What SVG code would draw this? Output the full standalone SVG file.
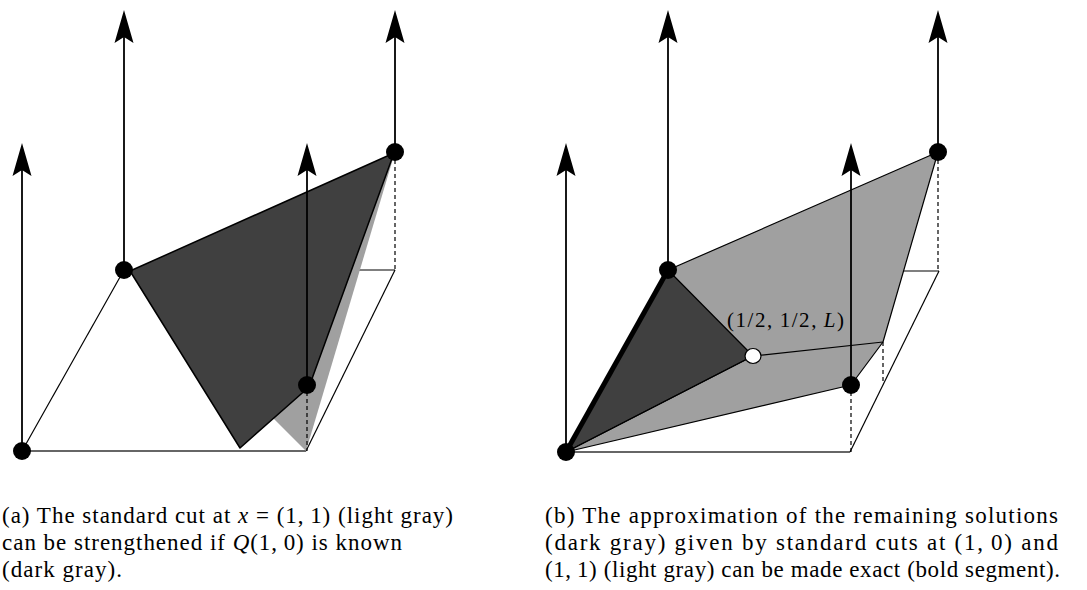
<svg xmlns="http://www.w3.org/2000/svg" width="1087" height="590" viewBox="0 0 1087 590">
<style>
.base{fill:none;stroke:#000;stroke-width:1.2}
.bot{fill:none;stroke:#333;stroke-width:1.6}
.dash{fill:none;stroke:#000;stroke-width:1.2;stroke-dasharray:4 3}
.shaft{fill:none;stroke:#000;stroke-width:1.8}
.dark{fill:#404040;stroke:#000;stroke-width:1.5;stroke-linejoin:round}
.light{fill:#a0a0a0;stroke:none}
.lightb{fill:#a0a0a0;stroke:#000;stroke-width:1.2;stroke-linejoin:round}
.edge{fill:none;stroke:#000;stroke-width:1.2}
.dot{fill:#000}
.wdot{fill:#fff;stroke:#000;stroke-width:1.2}
.cap{font-family:"Liberation Serif",serif;font-size:23px;fill:#000}
.lbl{font-family:"Liberation Serif",serif;font-size:21px;fill:#000}
</style>
<defs>
<path id="ah" d="M0,0 L9.5,33 L0,27 L-9.5,33 Z" fill="#000"/>
</defs>

<g id="panel-a">
  <g id="a-base">
    <line class="base" x1="22" y1="451" x2="124" y2="270"/>
    <line class="base" x1="124" y1="270" x2="395" y2="270"/>
    <line class="base" x1="306" y1="451" x2="395" y2="270"/>
    <line class="bot" x1="22" y1="451" x2="306" y2="451"/>
  </g>
  <g id="a-light-cut">
    <polygon class="light" points="395,152 306,451 260,405"/>
  </g>
  <g id="a-dark-cut">
    <polygon class="dark" points="130,271 394,153 309,387 240,448"/>
  </g>
  <g id="a-connectors">
    <line class="dash" x1="395" y1="160" x2="395" y2="270"/>
    <line class="dash" x1="307" y1="392" x2="307" y2="451"/>
    <line class="shaft" x1="22" y1="451" x2="22" y2="168"/>
    <use href="#ah" x="22" y="143"/>
    <line class="shaft" x1="124" y1="270" x2="124" y2="35"/>
    <use href="#ah" x="124" y="10"/>
    <line class="shaft" x1="307" y1="385" x2="307" y2="168"/>
    <use href="#ah" x="307" y="143"/>
    <line class="shaft" x1="395" y1="152" x2="395" y2="35"/>
    <use href="#ah" x="395" y="10"/>
  </g>
  <g id="a-points">
    <circle class="dot" cx="22" cy="451" r="9"/>
    <circle class="dot" cx="124" cy="270" r="9"/>
    <circle class="dot" cx="307" cy="385" r="9"/>
    <circle class="dot" cx="395" cy="152" r="9"/>
  </g>
  <g id="a-caption">
    <text class="cap" x="2" y="523" textLength="451" lengthAdjust="spacing">(a) The standard cut at <tspan font-style="italic">x</tspan> = (1,&#8201;1) (light gray)</text>
    <text class="cap" x="2" y="550" textLength="400" lengthAdjust="spacing">can be strengthened if <tspan font-style="italic">Q</tspan>(1,&#8201;0) is known</text>
    <text class="cap" x="2" y="577" textLength="120" lengthAdjust="spacing">(dark gray).</text>
  </g>
</g>

<g id="panel-b">
  <g id="b-base">
    <line class="base" x1="566" y1="452" x2="668" y2="271"/>
    <line class="base" x1="668" y1="271" x2="939" y2="271"/>
    <line class="base" x1="850" y1="452" x2="939" y2="271"/>
    <line class="bot" x1="566" y1="452" x2="850" y2="452"/>
  </g>
  <g id="b-light-cuts">
    <polygon class="lightb" points="566,452 668,270 938,152 883,342 851,385"/>
  </g>
  <g id="b-dark-region">
    <polygon class="dark" style="stroke-width:1.2" points="566,452 668,270 753,356"/>
  </g>
  <g id="b-connectors">
    <line class="edge" x1="753" y1="356" x2="883" y2="342"/>
    <line class="edge" x1="566" y1="452" x2="753" y2="356"/>
    <line x1="566" y1="452" x2="668" y2="270" stroke="#000" stroke-width="5"/>
    <line class="dash" x1="938" y1="160" x2="938" y2="271"/>
    <line class="dash" x1="883" y1="342" x2="883" y2="384"/>
    <line class="dash" x1="851" y1="392" x2="851" y2="452"/>
    <line class="shaft" x1="566" y1="452" x2="566" y2="168"/>
    <use href="#ah" x="566" y="143"/>
    <line class="shaft" x1="668" y1="270" x2="668" y2="35"/>
    <use href="#ah" x="668" y="10"/>
    <line class="shaft" x1="851" y1="385" x2="851" y2="168"/>
    <use href="#ah" x="851" y="143"/>
    <line class="shaft" x1="938" y1="152" x2="938" y2="35"/>
    <use href="#ah" x="938" y="10"/>
  </g>
  <g id="b-points">
    <circle class="dot" cx="566" cy="452" r="9"/>
    <circle class="dot" cx="668" cy="270" r="9"/>
    <circle class="dot" cx="851" cy="385" r="9"/>
    <circle class="dot" cx="938" cy="152" r="9"/>
    <ellipse class="wdot" cx="753" cy="356" rx="8" ry="7.5"/>
  </g>
  <g id="b-label">
    <text class="lbl" x="727" y="327" textLength="117" lengthAdjust="spacing">(1/2,&#8201;1/2,&#8201;<tspan font-style="italic">L</tspan>)</text>
  </g>
  <g id="b-caption">
    <text class="cap" x="545" y="523" textLength="513" lengthAdjust="spacing">(b) The approximation of the remaining solutions</text>
    <text class="cap" x="545" y="550" textLength="513" lengthAdjust="spacing">(dark gray) given by standard cuts at (1,&#8201;0) and</text>
    <text class="cap" x="545" y="577" textLength="515" lengthAdjust="spacing">(1,&#8201;1) (light gray) can be made exact (bold segment).</text>
  </g>
</g>
</svg>
